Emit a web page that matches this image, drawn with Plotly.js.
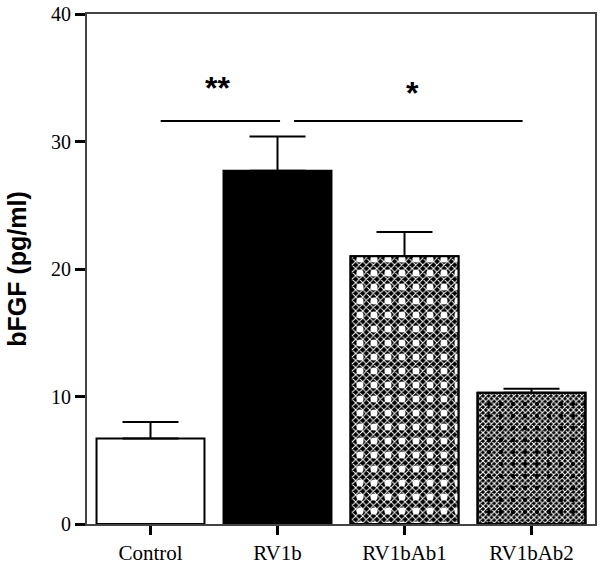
<!DOCTYPE html>
<html>
<head>
<meta charset="utf-8">
<script src="https://cdn.plot.ly/plotly-3.0.1.min.js"></script>
<style>html,body{margin:0;padding:0;background:#fff;}#chart{width:600px;height:564px;}</style>
</head>
<body>
<div id="chart"></div>
<script>
// ---- data ----
var categories = ['Control', 'RV1b', 'RV1bAb1', 'RV1bAb2'];
var means = [6.7, 27.7, 21.0, 10.3];
var sems = [1.3, 2.7, 1.9, 0.3];
var yTicks = [0, 10, 20, 30, 40];
var yTitle = 'bFGF (pg/ml)';

// significance brackets (x in category index units, y in data units)
var sigStart = [0.08, 1.13];
var sigEnd = [1.02, 2.93];
var sigLevel = [31.6, 31.6];
var sigText = ['**', '*'];
var sigTextX = [0.53, 2.06];
var sigTextY = [34.2, 33.8];

// ---- styles ----
var fillColors = ['#ffffff', '#000000', '#000000', '#000000'];
var patShape = ['', '', 'x', 'x'];
var patFg = ['#000', '#000', '#ffffff', '#ffffff'];
var patBg = ['#fff', '#000', '#000000', '#000000'];
var patSize = [8, 8, 5, 4];
var patSolid = [0.5, 0.5, 0.35, 0.45];
var dotShape = ['', '', '.', '.'];
var dotColor = ['#fff', '#fff', '#ffffff', '#000000'];
var dotSize = [14, 14, 14, 12];
var dotSolid = [0.1, 0.1, 0.2, 0.1];

var traces = [];
categories.forEach(function(c, i) {
  var pat = patShape[i] ? {shape: patShape[i], fgcolor: patFg[i], bgcolor: patBg[i], size: patSize[i], solidity: patSolid[i]} : {shape: ''};
  traces.push({
    type: 'bar', x: [c], y: [means[i]],
    width: 0.85,
    marker: {color: fillColors[i], line: {color: '#000', width: 2}, pattern: pat},
    error_y: {type: 'data', symmetric: false, array: [sems[i]], arrayminus: [0],
              color: '#000', thickness: 2, width: 28},
    hoverinfo: 'skip', showlegend: false
  });
});
categories.forEach(function(c, i) {
  if (!dotShape[i]) return;
  traces.push({
    type: 'bar', x: [c], y: [means[i]],
    width: 0.85,
    marker: {color: 'rgba(0,0,0,0)', line: {color: '#000', width: 2},
             pattern: {shape: dotShape[i], fgcolor: dotColor[i], bgcolor: 'rgba(0,0,0,0)', size: dotSize[i], solidity: dotSolid[i]}},
    hoverinfo: 'skip', showlegend: false
  });
});
for (var i = 0; i < sigStart.length; i++) {
  traces.push({
    type: 'scatter', mode: 'lines', xaxis: 'x2', yaxis: 'y',
    x: [sigStart[i], sigEnd[i]], y: [sigLevel[i], sigLevel[i]],
    line: {color: '#000', width: 2}, hoverinfo: 'skip', showlegend: false
  });
}

var annotations = sigText.map(function(t, i) {
  return {xref: 'x2', yref: 'y', x: sigTextX[i], y: sigTextY[i], text: t, showarrow: false,
          font: {family: 'Liberation Sans, Arial, sans-serif', size: 32, color: '#000', weight: 'bold'},
          xanchor: 'center', yanchor: 'middle'};
});

var layout = {
  width: 600, height: 564,
  margin: {l: 87, r: 5, t: 14, b: 40},
  paper_bgcolor: '#fff', plot_bgcolor: '#fff',
  barmode: 'overlay',
  showlegend: false,
  xaxis: {
    type: 'category', range: [-0.5, 3.5],
    showline: true, linecolor: '#444', linewidth: 2, mirror: true,
    ticks: 'outside', ticklen: 9, tickwidth: 3, tickcolor: '#000',
    tickfont: {family: 'Liberation Serif, Times New Roman, serif', size: 21, color: '#000'},
    showgrid: false, zeroline: false, fixedrange: true
  },
  xaxis2: {overlaying: 'x', range: [-0.5, 3.5], visible: false, fixedrange: true},
  yaxis: {
    range: [0, 40], tickvals: yTicks, ticktext: yTicks.map(String),
    showline: true, linecolor: '#444', linewidth: 2, mirror: true,
    ticks: 'outside', ticklen: 10, tickwidth: 3, tickcolor: '#000',
    tickfont: {family: 'Liberation Serif, Times New Roman, serif', size: 20, color: '#000'},
    showgrid: false, zeroline: false, fixedrange: true,
    title: {text: yTitle, font: {family: 'Liberation Sans, Arial, sans-serif', size: 25, color: '#000', weight: 'bold'}}
  },
  annotations: annotations
};

Plotly.newPlot('chart', traces, layout, {staticPlot: true, displayModeBar: false});
</script>
</body>
</html>
